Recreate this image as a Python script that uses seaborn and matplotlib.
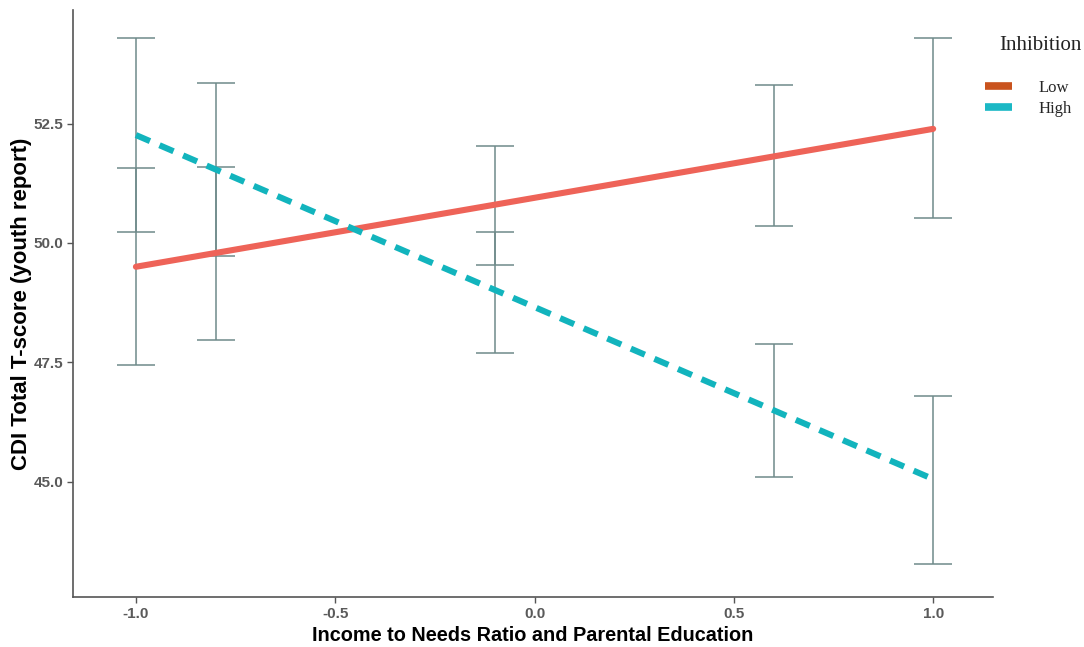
import matplotlib

matplotlib.use("Agg")

import matplotlib.pyplot as plt
import pandas as pd
import seaborn as sns
from matplotlib.lines import Line2D

# fitted simple slopes (line end points)
line_x = [-1.0, 1.0]
low_y = [49.50, 52.39]
high_y = [52.26, 45.05]

# error bars
bar_x = [-1.0, -0.8, -0.1, 0.6, 1.0]
low_lower = [47.44, 47.97, 49.54, 50.36, 50.52]
low_upper = [51.56, 51.59, 52.03, 53.31, 54.30]
high_lower = [50.23, 49.73, 47.69, 45.10, 43.27]
high_upper = [54.30, 53.35, 50.23, 47.88, 46.79]

x_ticks = [-1.0, -0.5, 0.0, 0.5, 1.0]
y_ticks = [45.0, 47.5, 50.0, 52.5]

lines = pd.DataFrame(
    {
        "ses": line_x + line_x,
        "cdi": low_y + high_y,
        "Inhibition": ["Low"] * 2 + ["High"] * 2,
    }
)

sns.set_theme(style="white")
plt.rcParams["font.family"] = ["Liberation Sans", "DejaVu Sans"]

fig = plt.figure(figsize=(10.84, 6.47), dpi=100)
ax = fig.add_axes([0.0673, 0.0773, 0.8487, 0.9072])

bar_color = "#6f8a8a"
for lo, hi in [(low_lower, low_upper), (high_lower, high_upper)]:
    for x, a, b in zip(bar_x, lo, hi):
        ax.errorbar(
            [x], [(a + b) / 2], yerr=[[(b - a) / 2], [(b - a) / 2]],
            fmt="none", ecolor=bar_color, elinewidth=1.1, capsize=14,
            capthick=1.1, zorder=2,
        )

sns.lineplot(
    data=lines[lines["Inhibition"] == "Low"], x="ses", y="cdi",
    color="#ee6358", linewidth=4.4, ax=ax, zorder=3,
)
sns.lineplot(
    data=lines[lines["Inhibition"] == "High"], x="ses", y="cdi",
    color="#12b4bd", linewidth=4.4, ax=ax, zorder=3,
)
ax.lines[-1].set_dashes([2.5, 1.7])
ax.lines[-1].set_dash_capstyle("butt")

ax.set_xlim(-1.158, 1.15)
ax.set_ylim(42.58, 54.88)
ax.set_xticks(x_ticks)
ax.set_xticklabels([f"{t:.1f}" for t in x_ticks])
ax.set_yticks(y_ticks)
ax.set_yticklabels([f"{t:.1f}" for t in y_ticks])
ax.tick_params(axis="both", colors="#555555", labelsize=11, length=4,
               width=1, direction="out", bottom=True, left=True, pad=3)
for lab in ax.get_xticklabels() + ax.get_yticklabels():
    lab.set_fontweight("bold")
    lab.set_color("#5a5a5a")

for side in ["top", "right"]:
    ax.spines[side].set_visible(False)
for side in ["left", "bottom"]:
    ax.spines[side].set_color("#555555")
    ax.spines[side].set_linewidth(1.2)

ax.set_xlabel("Income to Needs Ratio and Parental Education",
              fontsize=14.3, fontweight="bold", color="black", labelpad=4)
ax.set_ylabel("CDI Total T-score (youth report)",
              fontsize=16, fontweight="bold", color="black", labelpad=1)

fig.text(0.922, 0.93, "Inhibition", family="Liberation Serif", fontsize=15,
         color="#222222", ha="left", va="center")

handles = [
    Line2D([0], [0], color="#c9531e", linewidth=5.5, solid_capstyle="butt"),
    Line2D([0], [0], color="#1bb8c5", linewidth=5.5, solid_capstyle="butt"),
]
fig.legend(
    handles, ["Low", "High"],
    loc="upper left", bbox_to_anchor=(0.909, 0.877), frameon=False,
    prop={"family": "Liberation Serif", "size": 12},
    handlelength=1.6, handletextpad=1.6, labelspacing=0.3,
    borderpad=0, borderaxespad=0,
)

fig.savefig("out.png", dpi=100)
